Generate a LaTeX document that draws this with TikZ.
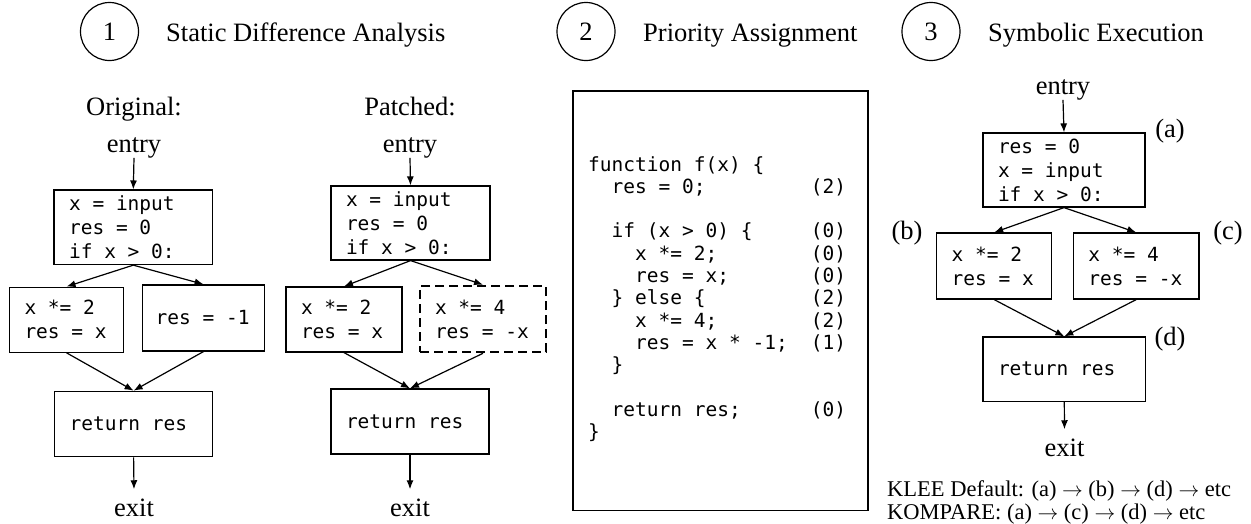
\documentclass[tikz,border=0pt]{standalone}
\usepackage{fontspec}
\setmainfont{Liberation Serif}
\setmonofont{DejaVu Sans Mono}
\usetikzlibrary{arrows.meta}

\newcommand\lblfont{\fontsize{26.5}{30}\selectfont}
\newcommand\codefont{\fontsize{19.5}{24}\selectfont\ttfamily\spaceskip=\fontcharwd\font`x\relax}
\newcommand\ind{\hphantom{xx}}

\tikzset{
  blk/.style={draw, line width=1.2pt, font=\codefont, align=flush left, inner xsep=15pt, inner ysep=0pt},
  newblk/.style={blk, line width=2.6pt, dash pattern=on 9pt off 5pt},
  flow/.style={line width=1.2pt, -{Latex[length=9pt,width=7pt]}},
  lbl/.style={font=\lblfont, inner sep=0pt, anchor=base},
  stepnum/.style={draw, circle, line width=1.2pt, minimum size=58pt, font=\lblfont, inner sep=0pt},
}

\begin{document}
\begin{tikzpicture}[x=1pt, y=-1pt]

  % Fix the page to the size of the figure
  \useasboundingbox (0,0) rectangle (1251,523);

  % Step headers
  \node[stepnum] (s1) at (109.5,31.5) {1};
  \node[lbl, anchor=base west] (t1) at (166,41) {Static Difference Analysis};
  \node[stepnum] (s2) at (586,31.5) {2};
  \node[lbl, anchor=base west] (t2) at (643,41) {Priority Assignment};
  \node[stepnum] (s3) at (931,31.5) {3};
  \node[lbl, anchor=base west] (t3) at (988,41) {Symbolic Execution};

  % Original control flow graph
  \node[lbl] (orig) at (134,115.5) {Original:};
  \node[lbl] (lentry) at (134,152) {entry};
  \node[blk, text width=128.5pt, minimum height=74.5pt] (lb1) at (133.3,227.3) {x = input\\res = 0\\if x > 0:};
  \node[blk, text width=84pt, minimum height=65pt] (lb2) at (66.5,319.7) {x *= 2\\res = x};
  \node[blk, text width=96pt, inner xsep=13pt, minimum height=66pt] (lb3) at (203.6,317.9) {res = -1};
  \node[blk, text width=128pt, minimum height=65.5pt] (lb4) at (133.6,424) {return res};
  \node[lbl, inner ysep=9pt] (lexit) at (134,516) {exit};

  \draw[flow] (lentry.south) -- (lb1.north);
  \draw[flow] (lb1.south) -- (lb2.north);
  \draw[flow] (lb1.south) -- (lb3.north);
  \draw[flow] (lb2.south) -- (lb4.north);
  \draw[flow] (lb3.south) -- (lb4.north);
  \draw[flow] (lb4.south) -- (lexit.north);

  % Patched control flow graph, the changed block is dashed
  \node[lbl] (patch) at (410,115.5) {Patched:};
  \node[lbl] (pentry) at (410,152) {entry};
  \node[blk, text width=129pt, minimum height=74pt] (pb1) at (410.5,223) {x = input\\res = 0\\if x > 0:};
  \node[blk, text width=86pt, minimum height=65pt] (pb2) at (344,319.5) {x *= 2\\res = x};
  \node[newblk, text width=96pt, minimum height=66pt] (pb3) at (483,319) {x *= 4\\res = -x};
  \node[blk, text width=128pt, minimum height=65pt] (pb4) at (410,421.5) {return res};
  \node[lbl, inner ysep=9pt] (pexit) at (410,516) {exit};

  \draw[flow] (pentry.south) -- (pb1.north);
  \draw[flow] (pb1.south) -- (pb2.north);
  \draw[flow] (pb1.south) -- (pb3.north);
  \draw[flow] (pb2.south) -- (pb4.north);
  \draw[flow] (pb3.south) -- (pb4.north);
  \draw[flow] (pb4.south) -- (pexit.north);

  % Source listing with priorities
  \node[draw, line width=1.2pt, minimum width=295pt, minimum height=419.6pt, inner sep=0pt] (prog) at (720.5,300.8) {};
  \node[font={\fontsize{19.5}{22.3}\selectfont\ttfamily\spaceskip=\fontcharwd\font`x\relax}, text width=258pt, align=flush left, inner sep=0pt, anchor=base west] (src) at (588,171) {%
    function f(x) \{\\
    \ind res = 0;\hfill(2)\\
    \mbox{}\\
    \ind if (x > 0) \{\hfill(0)\\
    \ind\ind x *= 2;\hfill(0)\\
    \ind\ind res = x;\hfill(0)\\
    \ind\} else \{\hfill(2)\\
    \ind\ind x *= 4;\hfill(2)\\
    \ind\ind res = x * -1;\hfill(1)\\
    \ind\}\\
    \mbox{}\\
    \ind return res;\hfill(0)\\
    \}};

  % Symbolic execution graph
  \node[lbl] (rentry) at (1063,94) {entry};
  \node[blk, text width=132pt, minimum height=74pt] (rb1) at (1064,170) {res = 0\\x = input\\if x > 0:};
  \node[blk, text width=85pt, minimum height=66pt] (rb2) at (994.2,266) {x *= 2\\res = x};
  \node[blk, text width=95.5pt, minimum height=66pt] (rb3) at (1136.2,266) {x *= 4\\res = -x};
  \node[blk, text width=132.6pt, minimum height=64.4pt] (rb4) at (1064.3,369.2) {return res};
  \node[lbl, inner ysep=9pt] (rexit) at (1064.5,456) {exit};

  \node[lbl] (la) at (1170,137) {(a)};
  \node[lbl] (lb) at (907,239) {(b)};
  \node[lbl] (lc) at (1228,239) {(c)};
  \node[lbl] (ld) at (1170,345) {(d)};

  \draw[flow] (rentry.south) -- (rb1.north);
  \draw[flow] (rb1.south) -- (rb2.north);
  \draw[flow] (rb1.south) -- (rb3.north);
  \draw[flow] (rb2.south) -- (rb4.north);
  \draw[flow] (rb3.south) -- (rb4.north);
  \draw[flow] (rb4.south) -- (rexit.north);

  % Search orders
  \node[font=\fontsize{22.5}{23}\selectfont, text width=362pt, align=flush left, inner sep=0pt, anchor=base west] (order) at (887,496) {KLEE Default: (a) $\rightarrow$ (b) $\rightarrow$ (d) $\rightarrow$ etc\\KOMPARE: (a) $\rightarrow$ (c) $\rightarrow$ (d) $\rightarrow$ etc};

\end{tikzpicture}
\end{document}
